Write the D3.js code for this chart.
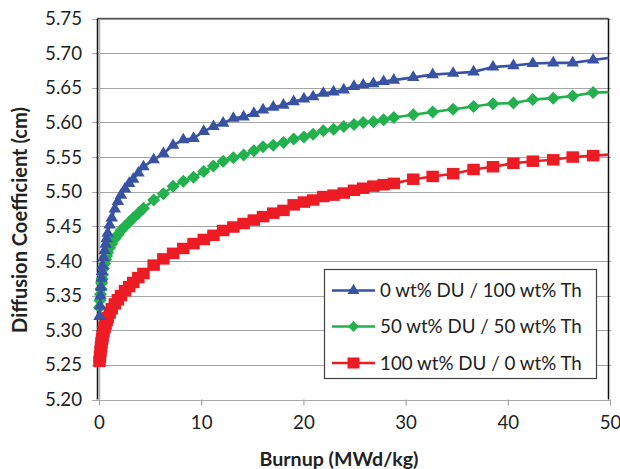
<!DOCTYPE html>
<html>
<head>
<meta charset="utf-8">
<script src="https://cdn.jsdelivr.net/npm/d3@7"></script>
<style>
  html, body { margin: 0; padding: 0; background: #fff; }
  svg { display: block; font-family: Lato, "Open Sans", sans-serif; }
</style>
</head>
<body>
<svg id="chart" width="620" height="469"></svg>
<script>
// Burnup steps (MWd/kg) shared by all three fuel mixes
const burnup = [0, 0.05, 0.1, 0.15, 0.2, 0.25, 0.3, 0.4, 0.5, 0.6, 0.7, 0.8, 1.0, 1.2, 1.5, 1.8, 2.1, 2.5, 2.9, 3.3, 3.8,
  4.3, 5.3, 6.25, 7.2, 8.2, 9.2, 10.2, 11.15, 12.1, 13.1, 14.1, 15.1, 16.0, 17.0, 18.0, 19.0, 20.0, 20.9, 21.9, 22.9,
  23.9, 24.9, 25.8, 26.8, 27.8, 28.8, 30.7, 32.6, 34.6, 36.6, 38.5, 40.5, 42.4, 44.4, 46.3, 48.3, 50.3];

// Diffusion coefficient (cm)
const du0th100 = [5.320, 5.335, 5.350, 5.362, 5.375, 5.385, 5.393, 5.405, 5.415, 5.424, 5.432, 5.440, 5.452, 5.462, 5.475,
  5.486, 5.495, 5.504, 5.512, 5.518, 5.527, 5.536, 5.546, 5.555, 5.567, 5.575, 5.577, 5.587, 5.594, 5.599, 5.606, 5.608,
  5.613, 5.618, 5.622, 5.625, 5.630, 5.634, 5.637, 5.642, 5.644, 5.647, 5.652, 5.654, 5.656, 5.659, 5.661, 5.665, 5.669,
  5.671, 5.673, 5.680, 5.682, 5.685, 5.686, 5.686, 5.690, 5.694];
const du50th50 = [5.333, 5.343, 5.352, 5.360, 5.368, 5.374, 5.380, 5.389, 5.396, 5.402, 5.407, 5.412, 5.419, 5.425, 5.432,
  5.438, 5.444, 5.450, 5.456, 5.462, 5.469, 5.476, 5.488, 5.497, 5.508, 5.515, 5.521, 5.529, 5.537, 5.544, 5.549, 5.553,
  5.559, 5.565, 5.567, 5.571, 5.576, 5.579, 5.583, 5.588, 5.590, 5.594, 5.597, 5.600, 5.601, 5.604, 5.607, 5.611, 5.615,
  5.619, 5.623, 5.627, 5.628, 5.633, 5.635, 5.638, 5.643, 5.644];
const du100th0 = [5.255, 5.262, 5.270, 5.276, 5.282, 5.287, 5.291, 5.298, 5.304, 5.309, 5.314, 5.318, 5.325, 5.331, 5.338,
  5.344, 5.350, 5.357, 5.363, 5.369, 5.376, 5.382, 5.394, 5.403, 5.411, 5.418, 5.425, 5.431, 5.437, 5.444, 5.449, 5.454,
  5.459, 5.464, 5.469, 5.473, 5.481, 5.485, 5.488, 5.493, 5.495, 5.498, 5.502, 5.505, 5.508, 5.510, 5.512, 5.518, 5.522,
  5.526, 5.532, 5.536, 5.541, 5.544, 5.546, 5.550, 5.552, 5.554];

const seriesNames = ["0 wt% DU / 100 wt% Th", "50 wt% DU / 50 wt% Th", "100 wt% DU / 0 wt% Th"];
const seriesColors = ["#3953a4", "#22b14c", "#ed1c24"];
const seriesMarkers = ["triangle", "diamond", "square"];

const xTicks = [0, 10, 20, 30, 40, 50];
const yTicks = [5.20, 5.25, 5.30, 5.35, 5.40, 5.45, 5.50, 5.55, 5.60, 5.65, 5.70, 5.75];

const xTitle = "Burnup (MWd/kg)";
const yTitle = "Diffusion Coefficient (cm)";

const series = [du0th100, du50th50, du100th0].map((vals, i) => ({
  name: seriesNames[i], color: seriesColors[i], marker: seriesMarkers[i],
  points: burnup.map((b, j) => ({ x: b, y: vals[j] }))
}));

const svg = d3.select("#chart");
const x = d3.scaleLinear().domain([0, 50]).range([99.5, 610.5]);
const y = d3.scaleLinear().domain([5.20, 5.75]).range([399.5, 18.5]);
const frameLeft = 97.5, frameRight = 608.5;

// fit a text element to a given width by scaling its font size
function fitWidth(sel, width) {
  const w = sel.node().getComputedTextLength();
  const fs = parseFloat(sel.attr("font-size"));
  sel.attr("font-size", (fs * width / w).toFixed(2));
}

function markerPath(type, s) {
  const h = s / 2;
  if (type === "triangle") {
    const th = s * 0.85;
    return `M0,${-th * 2 / 3}L${h},${th / 3}L${-h},${th / 3}Z`;
  }
  if (type === "diamond") return `M0,${-h}L${h},0L0,${h}L${-h},0Z`;
  return `M${-h},${-h * 0.92}H${h}V${h * 0.92}H${-h}Z`;
}

// horizontal gridlines, extending left as tick marks
svg.append("g").selectAll("line").data(yTicks).join("line")
  .attr("x1", 92).attr("x2", 611)
  .attr("y1", d => Math.round(y(d)) + 0.5).attr("y2", d => Math.round(y(d)) + 0.5)
  .attr("stroke", "#a6a6a6").attr("stroke-width", 1.2);

// y axis line
svg.append("line").attr("x1", x(0)).attr("x2", x(0)).attr("y1", y(5.75)).attr("y2", y(5.20))
  .attr("stroke", "#b0b0b0").attr("stroke-width", 1.5);

// x axis ticks
svg.append("g").selectAll("line").data(xTicks).join("line")
  .attr("x1", d => x(d)).attr("x2", d => x(d)).attr("y1", y(5.20)).attr("y2", y(5.20) + 6)
  .attr("stroke", "#a6a6a6").attr("stroke-width", 1.2);

// plot area frame
svg.append("line").attr("x1", frameLeft).attr("x2", frameRight).attr("y1", y(5.75)).attr("y2", y(5.75))
  .attr("stroke", "#595959").attr("stroke-width", 1.5);
svg.append("line").attr("x1", frameLeft).attr("x2", frameLeft).attr("y1", y(5.75)).attr("y2", y(5.20))
  .attr("stroke", "#111").attr("stroke-width", 1.5);
svg.append("line").attr("x1", frameRight).attr("x2", frameRight).attr("y1", y(5.75)).attr("y2", y(5.20))
  .attr("stroke", "#111").attr("stroke-width", 1.5);

// tick labels
const yl = svg.append("g").selectAll("text").data(yTicks).join("text")
  .attr("x", 82).attr("y", d => y(d)).attr("dy", "0.35em")
  .attr("text-anchor", "end").attr("font-size", 17).attr("fill", "#222")
  .text(d => d.toFixed(2));
yl.each(function () { fitWidth(d3.select(this), 37); });

const xl = svg.append("g").selectAll("text").data(xTicks).join("text")
  .attr("x", d => x(d)).attr("y", 422).attr("dy", "0.35em")
  .attr("text-anchor", "middle").attr("font-size", 17).attr("fill", "#222")
  .text(d => d);
const ysz = yl.attr("font-size");
xl.attr("font-size", ysz);

// axis titles
const xt = svg.append("text").attr("x", 339).attr("y", 459).attr("dy", "0.35em")
  .attr("text-anchor", "middle").attr("font-weight", "bold").attr("font-size", 17).attr("fill", "#222")
  .text(xTitle);
fitWidth(xt, 159);
const yt = svg.append("text").attr("transform", "translate(20,220) rotate(-90)").attr("dy", "0.35em")
  .attr("text-anchor", "middle").attr("font-weight", "bold").attr("font-size", 17).attr("fill", "#222")
  .text(yTitle);
fitWidth(yt, 226);

// data lines, clipped at the right edge of the frame
svg.append("clipPath").attr("id", "plotClip").append("rect")
  .attr("x", 0).attr("y", 0).attr("width", frameRight).attr("height", 469);

const line = d3.line().x(d => x(d.x)).y(d => y(d.y));
const gData = svg.append("g");
series.slice().reverse().forEach(s => {
  const g = gData.append("g");
  g.append("path").datum(s.points).attr("d", line)
    .attr("fill", "none").attr("stroke", s.color).attr("stroke-width", 2.6)
    .attr("clip-path", "url(#plotClip)");
  g.selectAll("path.m").data(s.points.filter(p => p.x <= 50)).join("path").attr("class", "m")
    .attr("transform", d => `translate(${x(d.x)},${y(d.y)})`)
    .attr("d", markerPath(s.marker, s.marker === "diamond" ? 13 : 12.5))
    .attr("fill", s.color);
});

// legend
const lg = svg.append("g");
lg.append("rect").attr("x", 324.5).attr("y", 269.5).attr("width", 272).attr("height", 109)
  .attr("fill", "#fff").attr("stroke", "#404040").attr("stroke-width", 1.2);
const rowY = [290.5, 326.5, 363];
series.forEach((s, i) => {
  const r = lg.append("g");
  r.append("line").attr("x1", 332).attr("x2", 375).attr("y1", rowY[i]).attr("y2", rowY[i])
    .attr("stroke", s.color).attr("stroke-width", 2.6);
  r.append("path").attr("transform", `translate(353.5,${rowY[i]})`)
    .attr("d", markerPath(s.marker, s.marker === "diamond" ? 11 : 12)).attr("fill", s.color);
  const t = r.append("text").attr("x", 380).attr("y", rowY[i]).attr("dy", "0.35em")
    .attr("font-size", 18).attr("fill", "#222").text(s.name);
  if (i === 0) fitWidth(t, 202);
  else t.attr("font-size", lg.select("text").attr("font-size"));
});
</script>
</body>
</html>
